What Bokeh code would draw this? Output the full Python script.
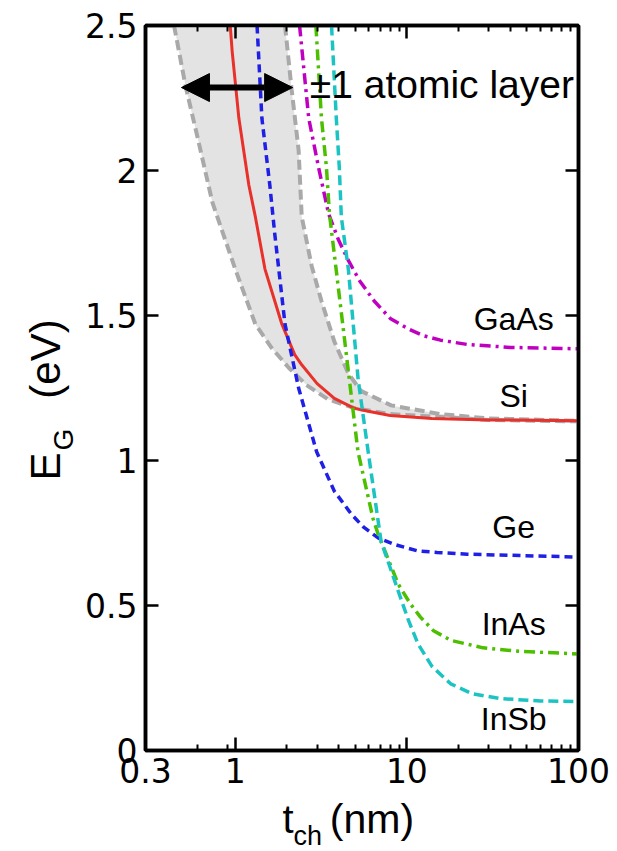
import math
from bokeh.plotting import figure
from bokeh.layouts import column, row
from bokeh.models import FixedTicker, LogAxis, LinearAxis, Label, Arrow, NormalHead, Range1d
from bokeh.embed import file_html
from bokeh.resources import INLINE

# ---- data ----
si_t = [0.935, 0.96, 1.05, 1.2, 1.31, 1.49, 1.87, 2.22, 2.44, 3.0, 3.78, 4.94, 5.95, 8.0, 14.0, 30.0, 100.0]
si_e = [2.5, 2.41, 2.18, 1.95, 1.84, 1.66, 1.47, 1.365, 1.33, 1.265, 1.214, 1.18, 1.17, 1.155, 1.145, 1.14, 1.137]

ge_t = [1.34, 1.43, 1.59, 1.70, 1.95, 2.34, 2.98, 3.78, 4.75, 5.6, 6.8, 8.5, 11.6, 15.0, 22.5, 100.0]
ge_e = [2.5, 2.18, 1.95, 1.78, 1.47, 1.25, 1.03, 0.894, 0.815, 0.77, 0.733, 0.71, 0.688, 0.683, 0.677, 0.667]

gaas_t = [2.37, 2.68, 3.06, 3.5, 4.0, 4.56, 5.3, 6.45, 8.0, 10.1, 12.5, 15.7, 22.5, 40.0, 100.0]
gaas_e = [2.5, 2.18, 2.01, 1.85, 1.76, 1.69, 1.62, 1.55, 1.49, 1.455, 1.43, 1.415, 1.40, 1.39, 1.385]

inas_t = [2.95, 3.18, 3.4, 3.54, 3.97, 4.54, 5.19, 6.35, 6.8, 8.9, 10.5, 12.0, 14.3, 18.0, 27.8, 45.0, 100.0]
inas_e = [2.5, 2.18, 2.01, 1.85, 1.605, 1.318, 1.03, 0.80, 0.746, 0.574, 0.505, 0.46, 0.413, 0.38, 0.354, 0.342, 0.333]

insb_t = [3.64, 3.88, 4.04, 4.15, 4.56, 5.2, 5.95, 7.07, 8.9, 10.2, 11.6, 14.0, 18.0, 24.0, 34.9, 60.0, 100.0]
insb_e = [2.5, 2.18, 2.01, 1.84, 1.66, 1.28, 1.03, 0.722, 0.55, 0.45, 0.368, 0.29, 0.23, 0.196, 0.179, 0.171, 0.169]

band_lo_t = [0.44, 0.514, 0.60, 0.736, 1.0, 1.31, 1.64, 2.05, 2.6, 3.5, 5.0, 8.0, 15.7, 30.0, 100.0]
band_lo_e = [2.5, 2.29, 2.12, 1.89, 1.66, 1.47, 1.386, 1.32, 1.26, 1.21, 1.18, 1.16, 1.15, 1.14, 1.135]

band_hi_t = [1.95, 2.13, 2.34, 2.44, 2.79, 3.18, 3.78, 4.56, 5.4, 8.1, 15.7, 30.0, 100.0]
band_hi_e = [2.5, 2.28, 2.07, 1.84, 1.67, 1.55, 1.41, 1.30, 1.24, 1.19, 1.16, 1.145, 1.137]

materials = ["GaAs", "Si", "Ge", "InAs", "InSb"]

x_ticks = [0.3, 1, 10, 100]
x_tick_labels = ["0.3", "1", "10", "100"]
x_minor = [0.6, 0.9, 2, 3, 4, 5, 6, 7, 8, 9, 20, 30, 40, 50, 60, 70, 80, 90]
y_ticks = [0, 0.5, 1, 1.5, 2, 2.5]
y_tick_labels = ["0", "0.5", "1", "1.5", "2", "2.5"]

# ---- layout sizes ----
YLAB_W = 80
MAIN_W = 617 - YLAB_W
MAIN_H = 796
XLAB_H = 851 - MAIN_H
TOP_B = 25
BOT_B = MAIN_H - 750

y_range = Range1d(0, 2.5)

# ---- main figure ----
p = figure(width=MAIN_W, height=MAIN_H, x_axis_type="log", title=None,
           x_range=Range1d(0.3, 100), y_range=y_range,
           output_backend="svg", toolbar_location=None,
           min_border_left=145 - YLAB_W, min_border_right=39,
           min_border_top=TOP_B, min_border_bottom=BOT_B)
p.grid.visible = False
p.outline_line_color = "black"
p.outline_line_width = 3.5
p.background_fill_color = "white"
p.border_fill_color = "white"

TICK_FONT = "DejaVu Sans"
for ax in p.xaxis:
    ax.ticker = FixedTicker(ticks=x_ticks, minor_ticks=x_minor)
    ax.major_label_overrides = dict(zip([float(v) for v in x_ticks], x_tick_labels))
for ax in p.yaxis:
    ax.ticker = FixedTicker(ticks=y_ticks, minor_ticks=[])
    ax.major_label_overrides = dict(zip([float(v) for v in y_ticks], y_tick_labels))

for ax in list(p.xaxis) + list(p.yaxis):
    ax.axis_line_color = "black"
    ax.axis_line_width = 3.5
    ax.major_tick_in = 13
    ax.major_tick_out = 0
    ax.minor_tick_in = 6
    ax.minor_tick_out = 0
    ax.major_tick_line_width = 2.5
    ax.minor_tick_line_width = 2
    ax.major_label_text_font = TICK_FONT
    ax.major_label_text_font_size = "33px"
    ax.major_label_text_color = "black"
p.xaxis.major_label_standoff = 7
p.yaxis.major_label_standoff = 8

top = LogAxis(ticker=FixedTicker(ticks=x_ticks, minor_ticks=x_minor))
right = LinearAxis(ticker=FixedTicker(ticks=y_ticks, minor_ticks=[]))
for ax in (top, right):
    ax.axis_line_color = "black"
    ax.axis_line_width = 3.5
    ax.major_tick_in = 13
    ax.major_tick_out = 0
    ax.minor_tick_in = 6
    ax.minor_tick_out = 0
    ax.major_tick_line_width = 2.5
    ax.minor_tick_line_width = 2
    ax.major_label_text_font_size = "0px"
    ax.major_label_text_color = None
    ax.major_label_standoff = 0
p.add_layout(top, "above")
p.add_layout(right, "right")

# ---- band (+-1 atomic layer) ----
p.patch(band_lo_t + band_hi_t[::-1], band_lo_e + band_hi_e[::-1],
        fill_color="#e3e3e3", line_color=None)
p.line(band_lo_t, band_lo_e, line_color="#a9a9a9", line_width=4, line_dash="10 5")
p.line(band_hi_t, band_hi_e, line_color="#a9a9a9", line_width=4, line_dash="10 5")

# ---- curves ----
p.line(si_t, si_e, line_color="#e8312a", line_width=3)
p.line(ge_t, ge_e, line_color="#1f1fe6", line_width=3.5, line_dash="8 5")
p.line(gaas_t, gaas_e, line_color="#c000c0", line_width=3.5, line_dash="11 5 3 5")
p.line(inas_t, inas_e, line_color="#4cbf00", line_width=3.5, line_dash="11 5 3 5")
p.line(insb_t, insb_e, line_color="#1cc3c3", line_width=3.5, line_dash="10 5")

# ---- material labels (anchored at the centre of each text) ----
LBL_FONT = "Liberation Sans"
lbl_x = 41.9
lbl_y = [1.487, 1.221, 0.769, 0.435, 0.107]
for name, yy in zip(materials, lbl_y):
    p.add_layout(Label(x=lbl_x, y=yy, text=name, text_align="center",
                       text_baseline="middle", text_font=LBL_FONT,
                       text_font_size="32px", text_color="black"))

# ---- arrow & annotation ----
head = dict(size=28, fill_color="black", line_color="black", line_width=1)
p.add_layout(Arrow(start=NormalHead(**head), end=NormalHead(**head),
                   x_start=0.486, x_end=2.16, y_start=2.286, y_end=2.286,
                   line_color="black", line_width=6))
p.add_layout(Label(x=2.72, y=2.295, text="\u00b11 atomic layer", text_align="left",
                   text_baseline="middle", text_font=LBL_FONT,
                   text_font_size="39px", text_color="black"))

# ---- axis titles (separate label panels so they are not clipped) ----
AX_FONT = "Liberation Sans"


def label_panel(w, h, yr, top_b=0, bot_b=0):
    f = figure(width=w, height=h, x_range=Range1d(0, w), y_range=yr,
               title=None, output_backend="svg", toolbar_location=None,
               x_axis_location=None, y_axis_location=None,
               min_border=0, min_border_left=0, min_border_right=0,
               min_border_top=top_b, min_border_bottom=bot_b)
    f.grid.visible = False
    f.outline_line_color = None
    f.background_fill_color = "white"
    f.border_fill_color = "white"
    return f


def center_label(fig, x, y, text, size, angle=0.0):
    fig.add_layout(Label(x=x, y=y, text=text, angle=angle, text_align="center",
                         text_baseline="middle", text_font=AX_FONT,
                         text_font_size=size, text_color="black"))


# y-label panel shares the main y scale (same top/bottom borders)
ylab = label_panel(YLAB_W, MAIN_H, y_range, TOP_B, BOT_B)
center_label(ylab, 45.4, 0.979, "E", "42px", math.pi / 2)
center_label(ylab, 63.3, 1.072, "G", "28px", math.pi / 2)
center_label(ylab, 45.4, 1.350, "(eV)", "42px", math.pi / 2)

xlab = label_panel(617, XLAB_H, Range1d(0, XLAB_H))
center_label(xlab, 287.6, 851 - 818.1, "t", "40px")
center_label(xlab, 307.3, 851 - 835.6, "ch", "27px")
center_label(xlab, 371.5, 851 - 818.1, "(nm)", "41px")

layout = column(row(ylab, p, spacing=0), xlab, spacing=0)
open("out.html", "w").write(file_html(layout, INLINE))
